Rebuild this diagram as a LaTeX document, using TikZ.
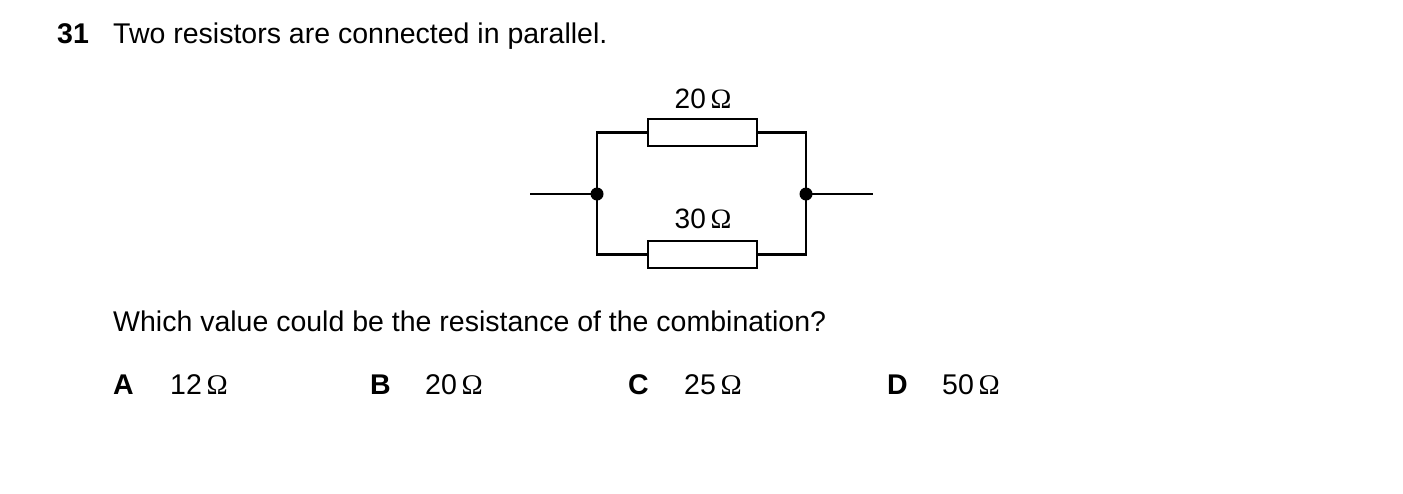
\documentclass[tikz,border=0pt]{standalone}
\usepackage{fontspec}
\setmainfont{Liberation Sans}
\newfontfamily\omfont{Liberation Serif}
\newcommand{\ohm}{\,{\omfont Ω}}
\begin{document}
\begin{tikzpicture}[x=1pt,y=-1pt,
  txt/.style={anchor=base west,inner sep=0pt,font=\fontsize{28.5}{34}\selectfont},
  lab/.style={inner sep=0pt,font=\fontsize{28}{34}\selectfont},
  wire/.style={line width=2.8pt,line join=miter},
  res/.style={draw,line width=2.8pt,minimum width=109pt,minimum height=27pt,inner sep=0pt},
  dot/.style={circle,fill=black,inner sep=0pt,minimum size=13pt}]
\useasboundingbox (0,0) rectangle (1403,493);
\node[txt,font=\fontsize{28.5}{34}\selectfont\bfseries] (n) at (57,43) {31};
\node[txt] (q) at (113,43) {Two resistors are connected in parallel.};
\node[res] (r1) at (702.5,132.5) {};
\node[res] (r2) at (702.5,254.5) {};
\node[lab] (l1) at (703,99) {20\ohm};
\node[lab] (l2) at (703,219) {30\ohm};
\node[dot] (j1) at (597,194) {};
\node[dot] (j2) at (806,194) {};
\coordinate (a) at (530,194);
\coordinate (b) at (873,194);
\draw[wire] (a) -- (j1.center);
\draw[wire] (j2.center) -- (b);
\draw[wire] (r1.west) -| (j1.center) |- (r2.west);
\draw[wire] (r1.east) -| (j2.center) |- (r2.east);
\node[txt] (q2) at (113,331) {Which value could be the resistance of the combination?};
\node[txt,font=\fontsize{28.5}{34}\selectfont\bfseries] (A) at (113,394) {A};
\node[txt] (a1) at (170,394) {12\ohm};
\node[txt,font=\fontsize{28.5}{34}\selectfont\bfseries] (B) at (370,394) {B};
\node[txt] (b1) at (425,394) {20\ohm};
\node[txt,font=\fontsize{28.5}{34}\selectfont\bfseries] (C) at (628,394) {C};
\node[txt] (c1) at (684,394) {25\ohm};
\node[txt,font=\fontsize{28.5}{34}\selectfont\bfseries] (D) at (887,394) {D};
\node[txt] (d1) at (942,394) {50\ohm};
\end{tikzpicture}
\end{document}
